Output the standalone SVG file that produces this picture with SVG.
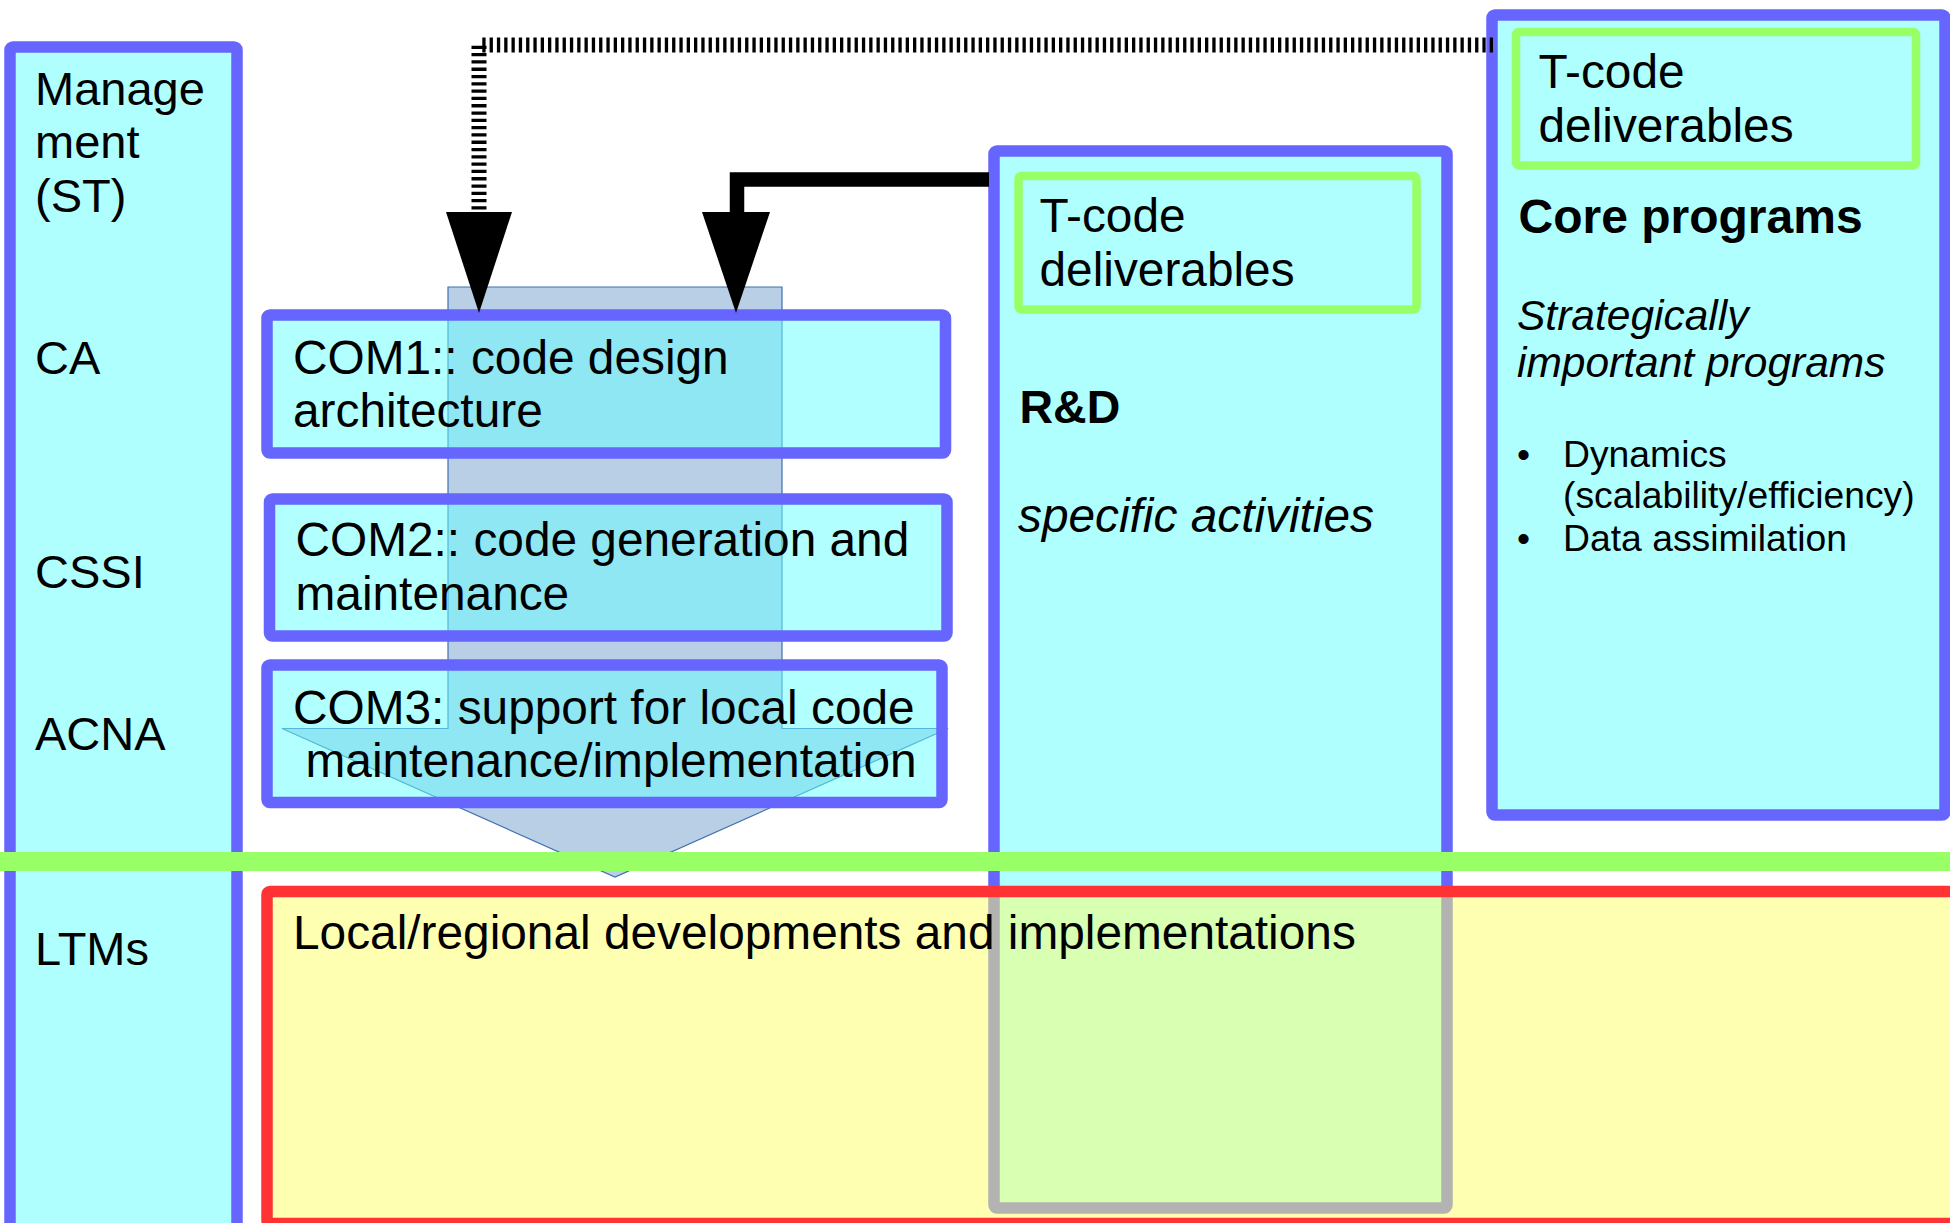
<svg xmlns="http://www.w3.org/2000/svg" width="1950" height="1223" viewBox="0 0 1950 1223">
<style>
text{font-family:"Liberation Sans",Arial,sans-serif;fill:#000}
.t47{font-size:47.8px}
.b{font-weight:bold}
.i{font-style:italic}
.box{stroke:#6666ff;stroke-width:11.5;stroke-linejoin:round}
.solid{fill:#b0ffff}
.com{fill:#66ffff;fill-opacity:0.5}
.inner{fill:none;stroke:#99ff66;stroke-width:8.5;stroke-linejoin:round}
</style>
<rect width="1950" height="1223" fill="#ffffff"/>

<g id="left-column">
<rect class="box solid" x="10" y="47" width="227" height="1190" rx="3"/>
<text class="t47" x="35" y="105" style="font-size:47px">Manage</text>
<text class="t47" x="35" y="158" style="font-size:47px">ment</text>
<text class="t47" x="35" y="212" style="font-size:47px">(ST)</text>
<text class="t47" x="35" y="374" style="font-size:47px">CA</text>
<text class="t47" x="35" y="588" style="font-size:47px">CSSI</text>
<text class="t47" x="35" y="750" style="font-size:47px">ACNA</text>
<text class="t47" x="35" y="965" style="font-size:47px">LTMs</text>
</g>

<g id="block-arrow">
<polygon points="448,287 782,287 782,728.5 948,728.5 615,877 282,728.5 448,728.5" fill="#b9cfe6" stroke="#3f6fb0" stroke-width="1.2"/>
</g>

<g id="com1">
<rect class="box com" x="267" y="315" width="678.5" height="138" rx="3"/>
<text class="t47" x="293" y="374">COM1:: code design</text>
<text class="t47" x="293" y="427">architecture</text>
</g>
<g id="com2">
<rect class="box com" x="269.5" y="499" width="677.5" height="137" rx="3"/>
<text class="t47" x="295.5" y="556">COM2:: code generation and</text>
<text class="t47" x="295.5" y="610">maintenance</text>
</g>
<g id="com3">
<rect class="box com" x="267" y="665" width="675" height="137.5" rx="3"/>
<text class="t47" x="293" y="724">COM3: support for local code</text>
<text class="t47" x="305.5" y="777">maintenance/implementation</text>
</g>

<g id="rnd">
<rect class="box solid" x="994" y="151" width="453" height="1057" rx="3"/>
<rect class="inner" x="1018.5" y="176" width="398" height="133.5" rx="3"/>
<text class="t47" x="1039.5" y="232">T-code</text>
<text class="t47" x="1039.5" y="286">deliverables</text>
<text class="b" x="1019.5" y="423" style="font-size:46.5px">R&amp;D</text>
<text class="t47 i" x="1018" y="532">specific activities</text>
</g>

<g id="core-programs">
<rect class="box solid" x="1492" y="15" width="453" height="800" rx="3"/>
<rect class="inner" x="1516" y="32" width="400" height="133.5" rx="3"/>
<text class="t47" x="1538.5" y="88">T-code</text>
<text class="t47" x="1538.5" y="142">deliverables</text>
<text class="b" x="1518.5" y="233" style="font-size:48px">Core programs</text>
<text class="i" x="1517" y="330" style="font-size:42.5px">Strategically</text>
<text class="i" x="1517" y="377" style="font-size:42.5px">important programs</text>
<g style="font-size:37.3px">
<text x="1517" y="467">•</text>
<text x="1563" y="467">Dynamics</text>
<text x="1563" y="508">(scalability/efficiency)</text>
<text x="1517" y="551">•</text>
<text x="1563" y="551">Data assimilation</text>
</g>
</g>

<g id="connectors">
<path d="M1493,45 H479 V212" fill="none" stroke="#000" stroke-width="15" stroke-dasharray="3.3 4"/>
<polygon points="446,212 512,212 479,313" fill="#000"/>
<path d="M989,179.5 H737 V212" fill="none" stroke="#000" stroke-width="14.5"/>
<polygon points="702,212 770,212 736,313" fill="#000"/>
</g>

<g id="divider">
<rect x="0" y="852" width="1950" height="19" fill="#99ff66"/>
</g>

<g id="local-regional">
<rect x="267" y="891.5" width="1700" height="332" rx="3" fill="#ffff66" fill-opacity="0.5" stroke="#ff3333" stroke-width="11.5"/>
<text class="t47" x="293" y="949">Local/regional developments and implementations</text>
</g>
</svg>
